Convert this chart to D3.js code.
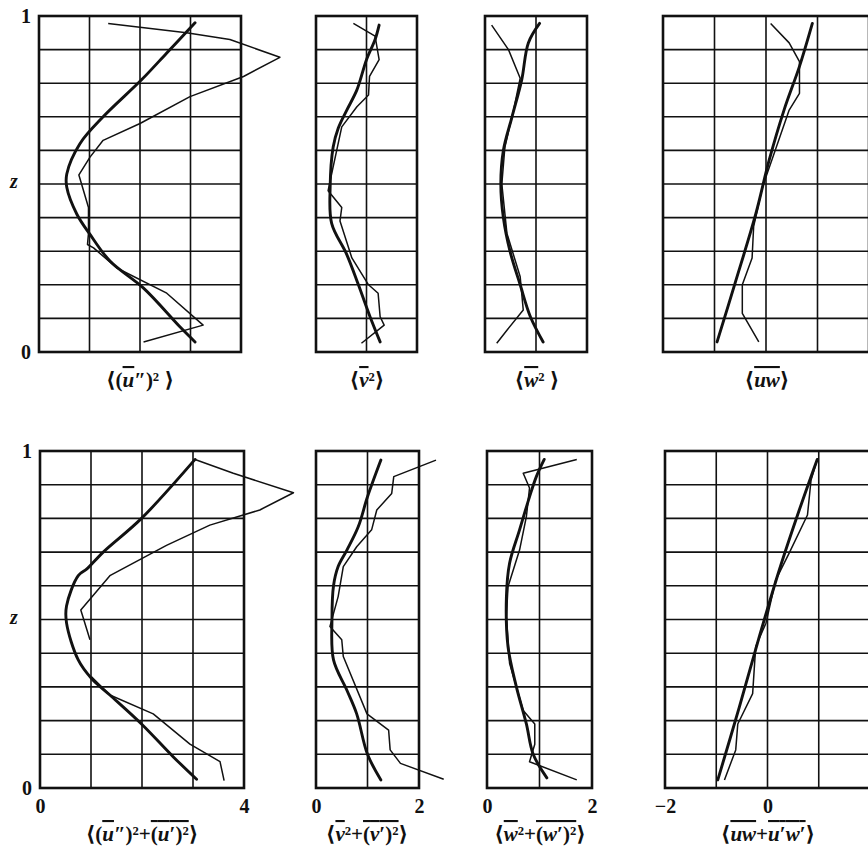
<!DOCTYPE html>
<html><head><meta charset="utf-8">
<script src="https://cdn.jsdelivr.net/npm/d3@7"></script>
<style>body{margin:0;background:#fff;overflow:hidden}</style></head>
<body><svg id="c" width="868" height="849"></svg>
<script>
// ---- data: [value, z] pairs ----
const topU_thick = [[3.09,0.98],[2.53,0.89],[2.03,0.81],[1.27,0.70],[0.81,0.62],[0.55,0.53],[0.55,0.49],[0.75,0.41],[1.01,0.35],[1.41,0.27],[2.07,0.19],[2.79,0.075],[3.09,0.03]];
const topU_thin  = [[1.37,0.978],[2.92,0.95],[3.78,0.93],[4.77,0.877],[4.05,0.82],[2.99,0.76],[2.0,0.68],[1.27,0.63],[1.01,0.58],[0.79,0.527],[0.98,0.43],[0.98,0.353],[0.96,0.32],[1.08,0.31],[1.54,0.25],[2.53,0.175],[3.25,0.08],[2.07,0.03]];
const topV_thick = [[1.25,0.973],[1.17,0.93],[1.0,0.87],[0.81,0.78],[0.61,0.72],[0.44,0.666],[0.34,0.61],[0.28,0.49],[0.31,0.383],[0.61,0.29],[0.84,0.20],[1.07,0.105],[1.27,0.03]];
const topV_thin  = [[0.74,0.978],[1.17,0.94],[1.25,0.87],[1.06,0.82],[1.04,0.765],[0.81,0.73],[0.51,0.67],[0.41,0.60],[0.31,0.53],[0.24,0.48],[0.51,0.43],[0.475,0.39],[0.71,0.28],[1.04,0.20],[1.23,0.175],[1.27,0.105],[1.35,0.08],[0.90,0.026]];
const topW_thick = [[1.07,0.978],[0.85,0.92],[0.72,0.81],[0.53,0.70],[0.36,0.60],[0.31,0.50],[0.36,0.40],[0.49,0.30],[0.69,0.20],[0.89,0.105],[1.14,0.03]];
const topW_thin  = [[0.13,0.973],[0.46,0.90],[0.69,0.815],[0.56,0.72],[0.39,0.61],[0.33,0.50],[0.43,0.353],[0.69,0.224],[0.75,0.125],[0.43,0.065],[0.23,0.026]];
const topUW_thick = [[0.90,0.978],[0.65,0.85],[0.35,0.72],[0.06,0.57],[-0.20,0.41],[-0.59,0.21],[-0.95,0.03]];
const topUW_thin  = [[0.09,0.978],[0.45,0.92],[0.65,0.864],[0.65,0.77],[0.45,0.72],[-0.07,0.49],[-0.24,0.373],[-0.27,0.28],[-0.46,0.20],[-0.46,0.115],[-0.14,0.03]];

const botU_thick = [[3.04,0.975],[1.99,0.80],[1.24,0.70],[0.92,0.65],[0.75,0.63],[0.52,0.54],[0.52,0.49],[0.75,0.38],[1.01,0.325],[1.37,0.276],[1.99,0.19],[2.61,0.093],[3.07,0.026]];
const botU_thin  = [[3.04,0.975],[3.79,0.934],[4.97,0.876],[4.31,0.825],[3.33,0.78],[2.48,0.72],[1.37,0.63],[0.80,0.528],[0.98,0.44],[null,null],[1.01,0.33],[1.37,0.276],[2.22,0.22],[2.94,0.13],[3.53,0.078],[3.61,0.022]];
const botV_thick = [[1.26,0.973],[1.0,0.864],[0.82,0.775],[0.60,0.706],[0.43,0.657],[0.34,0.60],[0.31,0.50],[0.34,0.38],[0.60,0.29],[0.79,0.22],[1.0,0.10],[1.26,0.024]];
const botV_thin  = [[2.33,0.973],[1.51,0.924],[1.47,0.874],[1.18,0.825],[1.08,0.766],[0.79,0.716],[0.53,0.657],[0.43,0.568],[0.27,0.479],[0.50,0.44],[0.53,0.39],[0.99,0.22],[1.41,0.172],[1.44,0.113],[1.64,0.073],[2.48,0.026]];
const botW_thick = [[1.09,0.975],[0.94,0.924],[0.81,0.864],[0.62,0.766],[0.43,0.667],[0.37,0.568],[0.40,0.42],[0.56,0.30],[0.75,0.19],[0.88,0.10],[1.14,0.03]];
const botW_thin  = [[1.71,0.975],[0.69,0.934],[0.81,0.89],[0.75,0.805],[0.62,0.706],[0.40,0.597],[0.37,0.508],[0.43,0.37],[0.69,0.23],[0.91,0.19],[0.91,0.13],[0.81,0.078],[1.71,0.024]];
const botUW_thick = [[0.97,0.975],[0.62,0.825],[0.23,0.647],[-0.16,0.449],[-0.55,0.24],[-0.97,0.024]];
const botUW_thin  = [[0.97,0.975],[0.85,0.914],[0.78,0.81],[0.42,0.696],[0.16,0.617],[-0.03,0.489],[-0.23,0.42],[-0.29,0.28],[-0.58,0.19],[-0.62,0.113],[-0.84,0.024]];

const zTicks = [0, 1];
const zLabel = "z";
const domains = [[0,4],[0,2],[0,2],[-2,2]];
const bottomTickValues = [[0,4],[0,2],[0,2],[-2,0]];

// title pieces: [text, overline, italic, bracket]
const titlesTop = [
  [["⟨",0,0,1],["(",0,0],["u",1,1],["″",0,0],[")²",0,0],[" ",0,0],["⟩",0,0,1]],
  [["⟨",0,0,1],["v",1,1],["²",0,0],["⟩",0,0,1]],
  [["⟨",0,0,1],["w",1,1],["² ",0,0],["⟩",0,0,1]],
  [["⟨",0,0,1],["uw",1,1],["⟩",0,0,1]]
];
const titlesBot = [
  [["⟨",0,0,1],["(",0,0],["u",1,1],["″",0,0],[")²+",0,0],["(",1,0],["u",1,1],["′)²",1,0],["⟩",0,0,1]],
  [["⟨",0,0,1],["v",1,1],["²+",0,0],["(",1,0],["v",1,1],["′)²",1,0],["⟩",0,0,1]],
  [["⟨",0,0,1],["w",1,1],["²+",0,0],["(",1,0],["w",1,1],["′)²",1,0],["⟩",0,0,1]],
  [["⟨",0,0,1],["uw",1,1],["+",0,0],["u",1,1],["′",1,0],["w",1,1],["′",1,0],["⟩",0,0,1]]
];

// ---- layout ----
const rows = [{y0:16, y1:352}, {y0:451, y1:788}];
const cols = [
  [{x0:39,x1:241},{x0:316,x1:417},{x0:485,x1:587},{x0:663,x1:869}],
  [{x0:40,x1:244},{x0:316,x1:419},{x0:487,x1:592},{x0:665,x1:870}]
];
const series = [
  [[topU_thick,topU_thin],[topV_thick,topV_thin],[topW_thick,topW_thin],[topUW_thick,topUW_thin]],
  [[botU_thick,botU_thin],[botV_thick,botV_thin],[botW_thick,botW_thin],[botUW_thick,botUW_thin]]
];
const titleX = [[140,367,537,767],[142,367,540,768]];

const svg = d3.select("#c");
const ink = "#111";
const font = "'Liberation Serif','DejaVu Serif',serif";

rows.forEach((r, ri) => {
  const y = d3.scaleLinear().domain([0,1]).range([r.y1, r.y0]);
  cols[ri].forEach((c, ci) => {
    const x = d3.scaleLinear().domain(domains[ci]).range([c.x0, c.x1]);
    const g = svg.append("g");
    const zg = d3.range(1, 10).map(i => i/10);
    g.selectAll("line.h").data(zg).join("line")
      .attr("x1", c.x0).attr("x2", c.x1)
      .attr("y1", d => y(d)).attr("y2", d => y(d))
      .attr("stroke", ink).attr("stroke-width", 1.6);
    const xg = d3.range(domains[ci][0]+1, domains[ci][1]);
    g.selectAll("line.v").data(xg).join("line")
      .attr("x1", d => x(d)).attr("x2", d => x(d))
      .attr("y1", r.y0).attr("y2", r.y1)
      .attr("stroke", ink).attr("stroke-width", 1.6);
    g.append("rect").attr("x", c.x0).attr("y", r.y0)
      .attr("width", c.x1 - c.x0).attr("height", r.y1 - r.y0)
      .attr("fill", "none").attr("stroke", ink).attr("stroke-width", 2.6);
    const thinLine = d3.line().defined(d => d[0] !== null).x(d => x(d[0])).y(d => y(d[1]));
    const thickLine = d3.line().x(d => x(d[0])).y(d => y(d[1])).curve(d3.curveCatmullRom.alpha(0.5));
    const [thick, thin] = series[ri][ci];
    g.append("path").attr("d", thinLine(thin)).attr("fill","none")
      .attr("stroke", ink).attr("stroke-width", 1.5).attr("stroke-linejoin","round");
    g.append("path").attr("d", thickLine(thick)).attr("fill","none")
      .attr("stroke", ink).attr("stroke-width", 2.9).attr("stroke-linejoin","round").attr("stroke-linecap","round");

    if (ri === 1) {
      const ax = d3.axisBottom(x).tickValues(bottomTickValues[ci]).tickSize(0).tickPadding(0)
        .tickFormat(d => d < 0 ? "−" + Math.abs(d) : String(d));
      const ag = svg.append("g").attr("transform", `translate(0,${r.y1 + 9})`).call(ax);
      ag.select(".domain").remove();
      ag.selectAll("text").attr("font-family", font).attr("font-weight", "bold")
        .attr("font-size", 20).attr("fill", ink).attr("dy", "0.8em");
    }

    const t = svg.append("text").attr("x", titleX[ri][ci]).attr("y", ri === 0 ? 387 : 841)
      .attr("text-anchor", "middle").attr("font-family", font).attr("font-weight", "bold")
      .attr("font-size", 21).attr("fill", ink);
    const pieces = (ri === 0 ? titlesTop : titlesBot)[ci];
    pieces.forEach(p => {
      const s = t.append("tspan").text(p[0]);
      if (p[1]) s.attr("text-decoration", "overline");
      if (p[2]) s.attr("font-style", "italic");
      if (p[3]) s.attr("font-family", "'DejaVu Serif',serif").attr("font-size", 21);
    });
  });

  const zAx = d3.axisLeft(y).tickValues(zTicks).tickSize(0).tickPadding(0).tickFormat(d3.format("d"));
  const zg = svg.append("g").attr("transform", `translate(${ri === 0 ? 31 : 32},0)`).call(zAx);
  zg.select(".domain").remove();
  zg.selectAll("text").attr("font-family", font).attr("font-weight", "bold")
    .attr("font-size", 20).attr("fill", ink);
  svg.append("text").attr("x", 14).attr("y", y(0.5) + 4).attr("text-anchor", "middle")
    .attr("font-family", font).attr("font-weight", "bold").attr("font-style", "italic")
    .attr("font-size", 20).attr("fill", ink).text(zLabel);
});
</script>
</body></html>
